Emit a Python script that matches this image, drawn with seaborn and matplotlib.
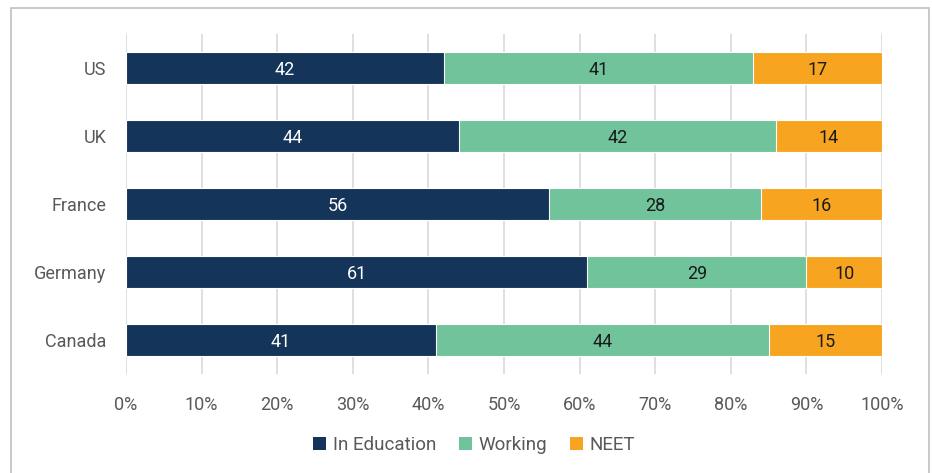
import numpy as np
import pandas as pd
import matplotlib.pyplot as plt
import seaborn as sns
from matplotlib.patches import Rectangle, Patch

# dados do gráfico
countries = ['US', 'UK', 'France', 'Germany', 'Canada']
in_education = [42, 44, 56, 61, 41]
working = [41, 42, 28, 29, 44]
neet = [17, 14, 16, 10, 15]

series = ['In Education', 'Working', 'NEET']
colors = ['#14345a', '#70c39b', '#f7a520']
label_colors = ['white', '#1a1a1a', '#1a1a1a']

sns.set_style('white')
plt.rcParams['font.family'] = ['Roboto', 'DejaVu Sans']

df = pd.DataFrame({'country': countries, 'In Education': in_education,
                   'Working': working, 'NEET': neet})
vals = df[series].to_numpy(dtype=float)
cum = np.cumsum(vals, axis=1)

fig = plt.figure(figsize=(9.32, 4.73), dpi=100)
ax = fig.add_axes([126 / 932, 1 - 374 / 473, 756 / 932, 340 / 473])

# barras empilhadas: desenha do total acumulado para o primeiro
for i in reversed(range(3)):
    plot_df = pd.DataFrame({'country': countries, 'value': cum[:, i]})
    sns.barplot(data=plot_df, x='value', y='country', orient='h', ax=ax,
                color=colors[i], width=0.46, edgecolor='white', linewidth=0.8,
                saturation=1, zorder=2)

# rótulos no centro de cada segmento
for r in range(len(countries)):
    for i in range(3):
        left = cum[r, i] - vals[r, i]
        ax.text(left + vals[r, i] / 2, r, f'{vals[r, i]:.0f}', ha='center',
                va='center_baseline', color=label_colors[i], fontsize=13, zorder=3)

ax.set_xlim(0, 100)
ax.set_ylim(4.5, -0.5)
ax.set_xticks(range(0, 101, 10))
ax.set_xticklabels([f'{t}%' for t in range(0, 101, 10)])
ax.set_xlabel('')
ax.set_ylabel('')
ax.xaxis.grid(True, color='#d9d9d9', linewidth=1.2, zorder=0)
ax.set_axisbelow(True)
for s in ax.spines.values():
    s.set_visible(False)
ax.tick_params(axis='x', length=0, pad=16, labelsize=13, labelcolor='#595959')
ax.tick_params(axis='y', length=0, pad=14, labelsize=13, labelcolor='#595959')

handles = [Patch(facecolor=c, edgecolor='none', label=s) for s, c in zip(series, colors)]
fig.legend(handles=handles, loc='center', bbox_to_anchor=(474 / 932, 1 - 445 / 473),
           ncol=3, frameon=False, fontsize=13.5, handlelength=0.7, handleheight=0.7,
           handletextpad=0.35, columnspacing=1.2, labelcolor='#595959')

# borda do gráfico
fig.patches.append(Rectangle((11 / 932, -0.05), 918 / 932, 1.05 - 8 / 473,
                             transform=fig.transFigure, fill=False,
                             edgecolor='#bfbfbf', linewidth=1.2))

fig.savefig('out.png', dpi=100)
